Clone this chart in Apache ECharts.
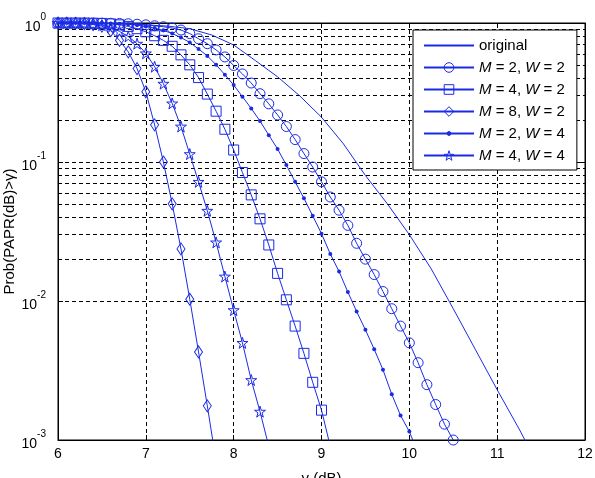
<!DOCTYPE html>
<html>
<head>
<meta charset="utf-8">
<script src="https://cdn.jsdelivr.net/npm/echarts@6/dist/echarts.min.js"></script>
<style>
  html, body { margin: 0; padding: 0; background: #fff; }
  #main { width: 595px; height: 478px; }
</style>
</head>
<body>
<div id="main"></div>
<script>
// ---- data (gamma in dB, CCDF of PAPR) ----
const xOriginal = [6.0, 6.25, 6.5, 6.75, 7.0, 7.25, 7.5, 7.75, 8.0, 8.25, 8.5, 8.75, 9.0, 9.25, 9.5, 9.75, 10.0, 10.25, 10.5, 10.75, 11.0, 11.25, 11.5];
const pOriginal = [1.0, 0.999, 0.995, 0.985, 0.97, 0.95, 0.91, 0.82, 0.695, 0.535, 0.41, 0.30, 0.21, 0.135, 0.08, 0.05, 0.03, 0.017, 0.0088, 0.0045, 0.0023, 0.0012, 0.0006];

const xM2W2 = [6.0, 6.1, 6.2, 6.3, 6.4, 6.5, 6.6, 6.7, 6.8, 6.9, 7.0, 7.1, 7.2, 7.3, 7.4, 7.5, 7.6, 7.7, 7.8, 7.9, 8.0, 8.1, 8.2, 8.3, 8.4, 8.5, 8.6, 8.7, 8.8, 8.9, 9.0, 9.1, 9.2, 9.3, 9.4, 9.5, 9.6, 9.7, 9.8, 9.9, 10.0, 10.1, 10.2, 10.3, 10.4, 10.5];
const pM2W2 = [1.0, 1.0, 1.0, 1.0, 0.999, 0.998, 0.996, 0.993, 0.988, 0.98, 0.97, 0.955, 0.94, 0.92, 0.89, 0.84, 0.77, 0.71, 0.64, 0.57, 0.495, 0.43, 0.37, 0.31, 0.262, 0.218, 0.18, 0.145, 0.115, 0.092, 0.072, 0.056, 0.045, 0.035, 0.026, 0.020, 0.0155, 0.0117, 0.0088, 0.0066, 0.005, 0.0036, 0.0025, 0.0018, 0.0013, 0.001];

const xM4W2 = [6.0, 6.1, 6.2, 6.3, 6.4, 6.5, 6.6, 6.7, 6.8, 6.9, 7.0, 7.1, 7.2, 7.3, 7.4, 7.5, 7.6, 7.7, 7.8, 7.9, 8.0, 8.1, 8.2, 8.3, 8.4, 8.5, 8.6, 8.7, 8.8, 8.9, 9.0, 9.1];
const pM4W2 = [1.0, 1.0, 1.0, 0.999, 0.997, 0.993, 0.985, 0.97, 0.945, 0.91, 0.865, 0.81, 0.75, 0.68, 0.59, 0.50, 0.405, 0.308, 0.232, 0.172, 0.122, 0.084, 0.058, 0.039, 0.0253, 0.0158, 0.0102, 0.0066, 0.0042, 0.0026, 0.00164, 0.0009];

const xM8W2 = [6.0, 6.1, 6.2, 6.3, 6.4, 6.5, 6.6, 6.7, 6.8, 6.9, 7.0, 7.1, 7.2, 7.3, 7.4, 7.5, 7.6, 7.7, 7.8];
const pM8W2 = [1.0, 0.999, 0.996, 0.99, 0.975, 0.95, 0.88, 0.75, 0.62, 0.47, 0.32, 0.185, 0.10, 0.05, 0.0237, 0.0103, 0.0043, 0.00176, 0.0007];

const xM2W4 = [6.0, 6.1, 6.2, 6.3, 6.4, 6.5, 6.6, 6.7, 6.8, 6.9, 7.0, 7.1, 7.2, 7.3, 7.4, 7.5, 7.6, 7.7, 7.8, 7.9, 8.0, 8.1, 8.2, 8.3, 8.4, 8.5, 8.6, 8.7, 8.8, 8.9, 9.0, 9.1, 9.2, 9.3, 9.4, 9.5, 9.6, 9.7, 9.8, 9.9, 10.0, 10.1];
const pM2W4 = [1.0, 1.0, 1.0, 0.999, 0.998, 0.996, 0.993, 0.987, 0.978, 0.965, 0.945, 0.92, 0.885, 0.84, 0.785, 0.725, 0.65, 0.58, 0.50, 0.425, 0.358, 0.295, 0.243, 0.197, 0.156, 0.124, 0.095, 0.072, 0.0548, 0.041, 0.0305, 0.0218, 0.0163, 0.0116, 0.0084, 0.0062, 0.0045, 0.0032, 0.00213, 0.0015, 0.00115, 0.0008];

const xM4W4 = [6.0, 6.1, 6.2, 6.3, 6.4, 6.5, 6.6, 6.7, 6.8, 6.9, 7.0, 7.1, 7.2, 7.3, 7.4, 7.5, 7.6, 7.7, 7.8, 7.9, 8.0, 8.1, 8.2, 8.3, 8.4];
const pM4W4 = [1.0, 1.0, 0.998, 0.995, 0.985, 0.965, 0.93, 0.87, 0.80, 0.71, 0.605, 0.485, 0.366, 0.264, 0.18, 0.114, 0.072, 0.0446, 0.0264, 0.015, 0.0086, 0.005, 0.0027, 0.0016, 0.0009];

const seriesNames = ['original', 'M = 2, W = 2', 'M = 4, W = 2', 'M = 8, W = 2', 'M = 2, W = 4', 'M = 4, W = 4'];
// minor log grid lines (2..9 in every decade)
const minorGrid = [0.002, 0.003, 0.004, 0.005, 0.006, 0.007, 0.008, 0.009,
                   0.02, 0.03, 0.04, 0.05, 0.06, 0.07, 0.08, 0.09,
                   0.2, 0.3, 0.4, 0.5, 0.6, 0.7, 0.8, 0.9];

const blue = '#1a2be6';
const font = '"Liberation Sans", Arial, sans-serif';
const starPath = 'path://M50,2 L61,37 L98,37 L68,59 L79,95 L50,73 L21,95 L32,59 L2,37 L39,37 Z';
const dotPath = 'path://M0,0 M100,100 M70,50 A20,20 0 1,1 30,50 A20,20 0 1,1 70,50 Z';

function pairs(xs, ys) {
  return xs.map((x, i) => [x, ys[i]]);
}

function curve(name, xs, ys, symbol, size, filled) {
  return {
    name: name,
    type: 'line',
    data: pairs(xs, ys),
    symbol: symbol,
    symbolSize: size,
    showSymbol: symbol !== 'none',
    showAllSymbol: true,
    clip: true,
    silent: true,
    lineStyle: { color: blue, width: 1 },
    itemStyle: {
      color: filled ? blue : 'rgba(0,0,0,0)',
      borderColor: blue,
      borderWidth: filled ? 0 : 1
    },
    emphasis: { disabled: true },
    z: 3
  };
}

const dash = [4, 3];
const myChart = echarts.init(document.getElementById('main'));

const option = {
  animation: false,
  backgroundColor: '#fff',
  grid: {
    left: 58, right: 10, top: 23, bottom: 38,
    outerBoundsMode: 'none',
    show: true, borderColor: '#000', borderWidth: 1, backgroundColor: 'transparent'
  },
  legend: {
    orient: 'vertical',
    left: 413,
    top: 30,
    padding: [8, 12, 7, 10],
    itemWidth: 50,
    itemHeight: 12,
    itemGap: 7,
    backgroundColor: '#fff',
    borderColor: '#000',
    borderWidth: 1,
    borderRadius: 0,
    selectedMode: false,
    itemStyle: { borderWidth: 1 },
    data: seriesNames,
    formatter: function (name) {
      return name === 'original' ? name : name.replace(/([MW])/g, '{i|$1}');
    },
    textStyle: {
      fontFamily: font,
      fontSize: 15,
      color: '#000',
      rich: { i: { fontFamily: font, fontSize: 15, fontStyle: 'italic', color: '#000' } }
    }
  },
  xAxis: [
    {
      type: 'value',
      min: 6,
      max: 12,
      interval: 1,
      name: 'γ (dB)',
      nameLocation: 'middle',
      nameGap: 31,
      nameMoveOverlap: false,
      nameTextStyle: { fontFamily: font, fontSize: 15, color: '#000' },
      axisLine: { lineStyle: { color: '#000' } },
      axisTick: { inside: true, length: 5, lineStyle: { color: '#000' } },
      axisLabel: { fontFamily: font, fontSize: 14, color: '#000', margin: 7 },
      splitLine: { show: true, lineStyle: { color: '#000', type: dash, width: 1 } }
    },
    {
      type: 'value',
      position: 'top',
      min: 6,
      max: 12,
      interval: 1,
      axisLine: { lineStyle: { color: '#000' } },
      axisTick: { inside: true, length: 5, lineStyle: { color: '#000' } },
      axisLabel: { show: false },
      splitLine: { show: false }
    }
  ],
  yAxis: [
    {
      type: 'log',
      logBase: 10,
      min: 0.001,
      max: 1,
      name: 'Prob(PAPR(dB)>γ)',
      nameLocation: 'middle',
      nameGap: 41,
      nameMoveOverlap: false,
      nameTextStyle: { fontFamily: font, fontSize: 15, color: '#000' },
      axisLine: { lineStyle: { color: '#000' } },
      axisTick: { inside: true, length: 5, lineStyle: { color: '#000' } },
      axisLabel: {
        margin: 12,
        formatter: function (v) {
          return '{b|10}{s|' + Math.round(Math.log10(v)) + '}';
        },
        rich: {
          b: { fontFamily: font, fontSize: 14, color: '#000', lineHeight: 22, verticalAlign: 'bottom' },
          s: { fontFamily: font, fontSize: 10, color: '#000', lineHeight: 22, verticalAlign: 'top' }
        }
      },
      splitLine: { show: true, lineStyle: { color: '#000', type: dash, width: 1 } }
    },
    {
      type: 'log',
      logBase: 10,
      min: 0.001,
      max: 1,
      position: 'right',
      axisLine: { lineStyle: { color: '#000' } },
      axisTick: { inside: true, length: 5, lineStyle: { color: '#000' } },
      axisLabel: { show: false },
      splitLine: { show: false }
    }
  ],
  series: [
    Object.assign(curve(seriesNames[0], xOriginal, pOriginal, 'none', 0, false), {
      itemStyle: { color: 'rgba(0,0,0,0)', borderColor: 'rgba(0,0,0,0)', borderWidth: 0 },
      markLine: {
        silent: true,
        symbol: ['none', 'none'],
        z: 1,
        label: { show: false },
        lineStyle: { color: '#000', type: dash, width: 1 },
        data: minorGrid.map(v => ({ yAxis: v }))
      }
    }),
    curve(seriesNames[1], xM2W2, pM2W2, 'circle', 10, false),
    curve(seriesNames[2], xM4W2, pM4W2, 'rect', 10, false),
    curve(seriesNames[3], xM8W2, pM8W2, 'diamond', [8, 12], false),
    curve(seriesNames[4], xM2W4, pM2W4, dotPath, 10, true),
    curve(seriesNames[5], xM4W4, pM4W4, starPath, 11, false)
  ]
};

myChart.setOption(option);
</script>
</body>
</html>
